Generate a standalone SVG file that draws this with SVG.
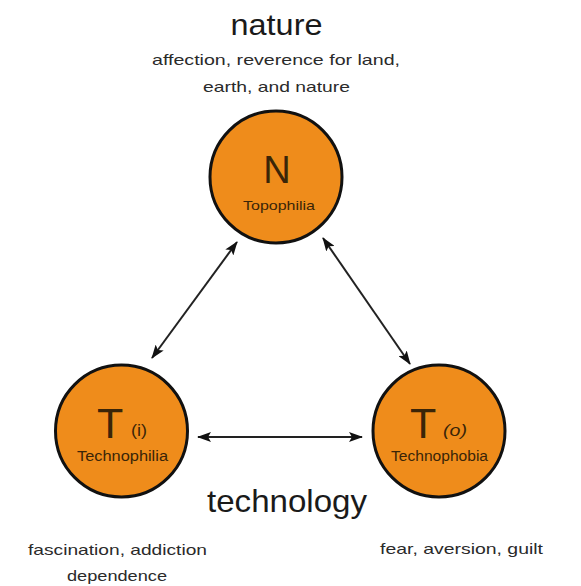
<svg xmlns="http://www.w3.org/2000/svg" width="581" height="586" viewBox="0 0 581 586">
<style>
.node{fill:#EF8C1B;stroke:#111;stroke-width:3}
.big{font-family:"Liberation Sans",Arial,sans-serif;fill:#1a1a1a}
.sub{font-family:"Liberation Sans",Arial,sans-serif;fill:#2a2a2a;font-size:15px}
.in{font-family:"Liberation Sans",Arial,sans-serif;fill:#3a2508}
.conn{stroke:#222;stroke-width:2;fill:none;marker-start:url(#ah);marker-end:url(#ah)}
</style>
<defs>
<marker id="ah" viewBox="0 0 14 10" refX="13" refY="5" markerWidth="14" markerHeight="10" markerUnits="userSpaceOnUse" orient="auto-start-reverse">
<path d="M0,0 L14,5 L0,10 L3,5 Z" fill="#111"/>
</marker>
</defs>
<rect width="581" height="586" fill="#fff"/>
<g id="label-nature">
<text class="big" x="276.5" y="35" font-size="30" text-anchor="middle" textLength="92" lengthAdjust="spacingAndGlyphs">nature</text>
<text class="sub" x="276" y="65" text-anchor="middle" textLength="248" lengthAdjust="spacingAndGlyphs">affection, reverence for land,</text>
<text class="sub" x="276.5" y="92" text-anchor="middle" textLength="147" lengthAdjust="spacingAndGlyphs">earth, and nature</text>
</g>
<g id="connectors">
<line class="conn" x1="237" y1="242" x2="152" y2="358"/>
<line class="conn" x1="323" y1="238" x2="410" y2="364"/>
<line class="conn" x1="198" y1="437" x2="362" y2="437"/>
</g>
<g id="node-N">
<circle class="node" cx="276" cy="177" r="66"/>
<text class="in" x="277" y="183" font-size="38" text-anchor="middle" fill="#1a1a1a">N</text>
<text class="in" x="279" y="210" font-size="13" text-anchor="middle" textLength="72" lengthAdjust="spacingAndGlyphs">Topophilia</text>
</g>
<g id="node-Ti">
<circle class="node" cx="121.5" cy="431" r="66"/>
<text class="in" x="97" y="438" font-size="43">T</text>
<text class="in" x="131" y="436" font-size="17" textLength="16" lengthAdjust="spacingAndGlyphs">(i)</text>
<text class="in" x="122.5" y="461" font-size="14" text-anchor="middle" textLength="91" lengthAdjust="spacingAndGlyphs">Technophilia</text>
</g>
<g id="node-To">
<circle class="node" cx="439" cy="431" r="66"/>
<text class="in" x="410" y="438" font-size="43">T</text>
<text class="in" x="443" y="436" font-size="17" font-style="italic" textLength="24" lengthAdjust="spacingAndGlyphs">(o)</text>
<text class="in" x="439.5" y="461" font-size="14" text-anchor="middle" textLength="97" lengthAdjust="spacingAndGlyphs">Technophobia</text>
</g>
<g id="label-technology">
<text class="big" x="287" y="512" font-size="32" text-anchor="middle" textLength="160" lengthAdjust="spacingAndGlyphs">technology</text>
<text class="sub" x="117.5" y="555" font-size="16" text-anchor="middle" textLength="179" lengthAdjust="spacingAndGlyphs">fascination, addiction</text>
<text class="sub" x="117" y="581" font-size="16" text-anchor="middle" textLength="100" lengthAdjust="spacingAndGlyphs">dependence</text>
<text class="sub" x="461.5" y="554" font-size="16" text-anchor="middle" textLength="163" lengthAdjust="spacingAndGlyphs">fear, aversion, guilt</text>
</g>
</svg>
